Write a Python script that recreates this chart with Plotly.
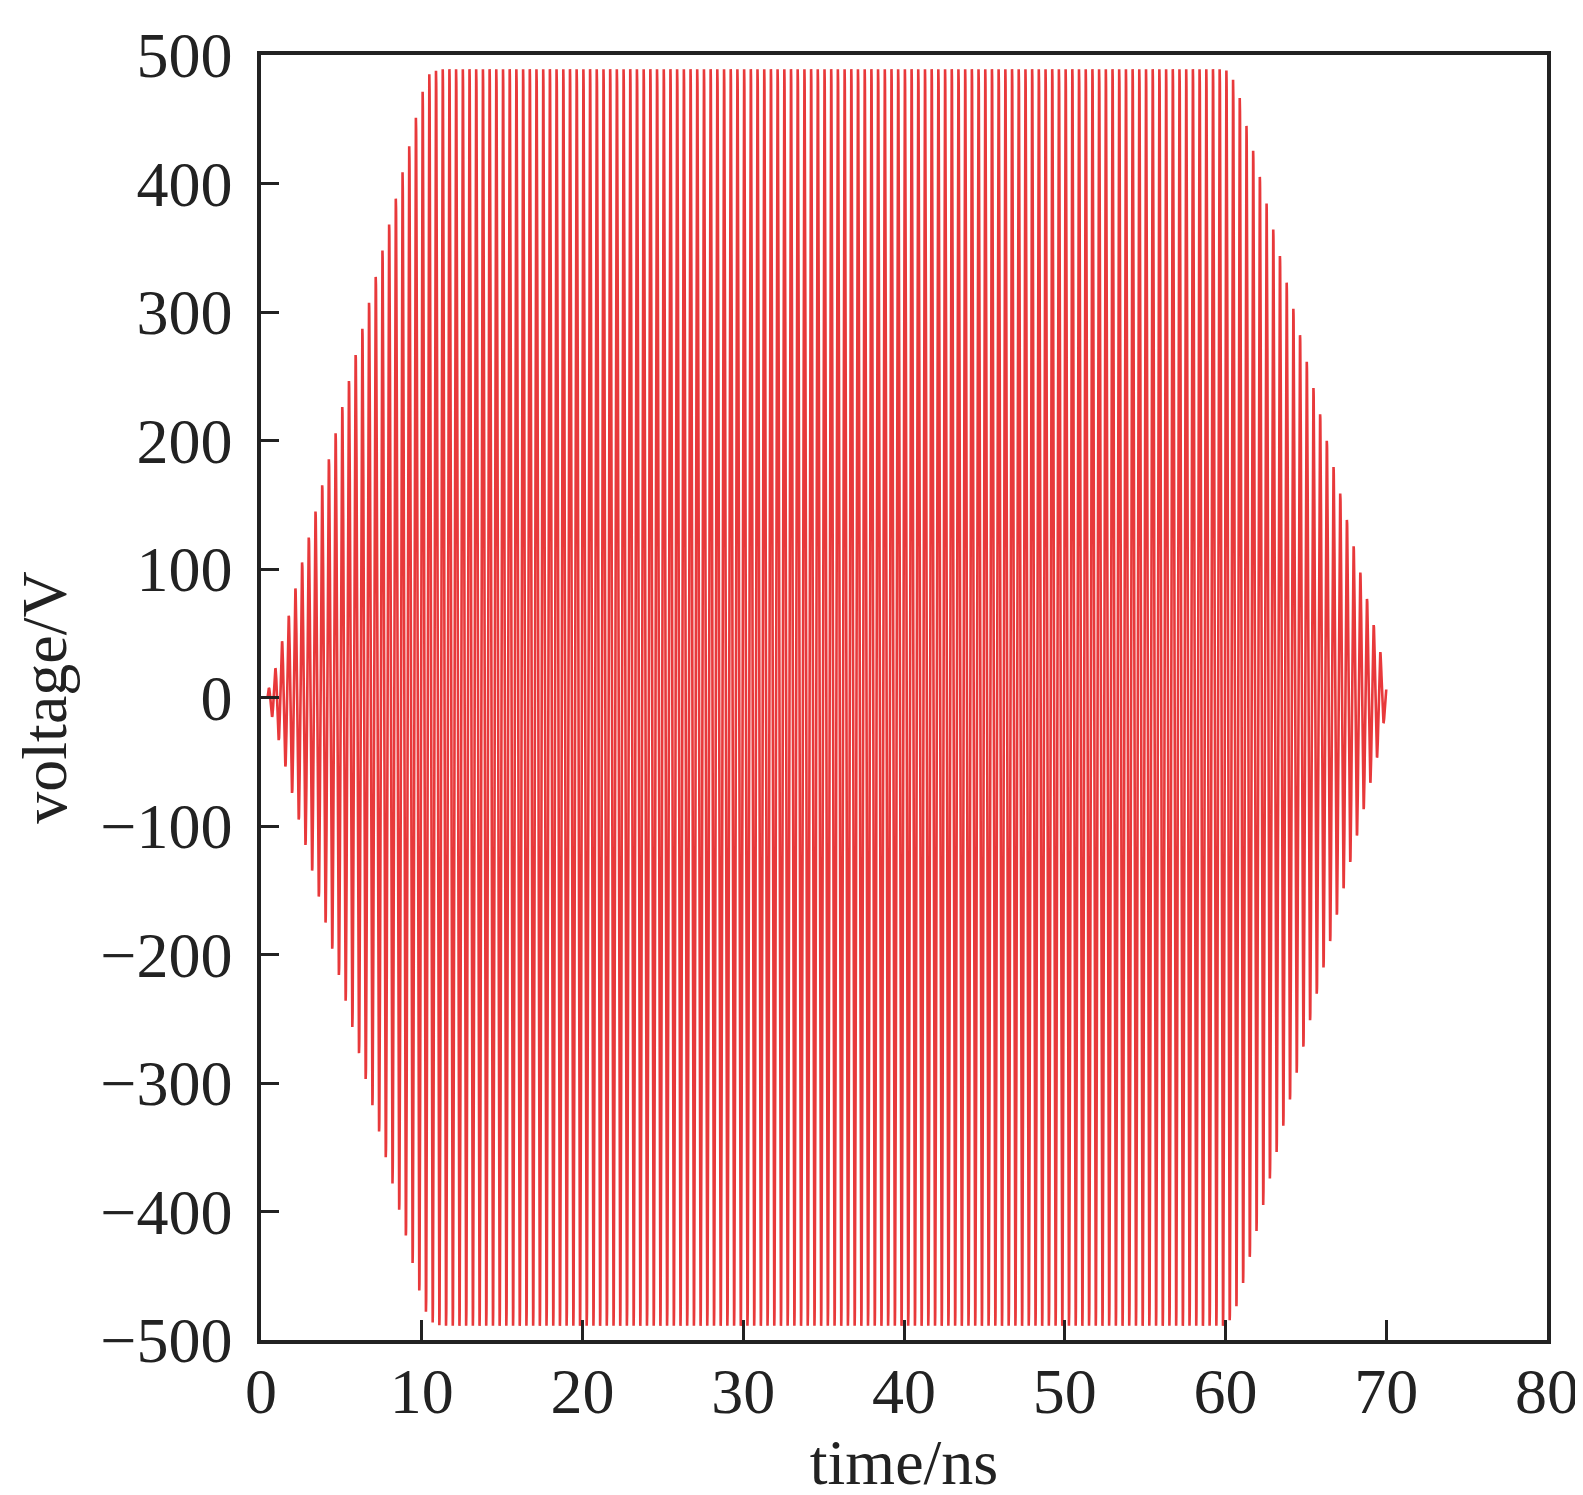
import numpy as np
import plotly.graph_objects as go

# Envelope amplitude readings (time in ns, peak voltage in V)
env_time = [0.0, 0.41, 0.47, 0.91, 1.30, 1.71, 2.12, 2.53, 2.96, 9.24, 9.63, 10.04, 10.47,
            10.9, 11.3, 60.0, 60.43, 60.86, 61.24, 61.67, 62.1, 69.14, 69.57, 69.94, 70.0]
env_volt = [0.0, 0.0, 7.0, 23.5, 43.5, 63.0, 84.0, 104.0, 124.0, 430.0, 451.0, 471.0, 485.0,
            488.0, 489.0, 489.0, 482.0, 468.0, 448.0, 428.0, 407.0, 60.0, 40.0, 12.0, 9.0]

# Carrier: peak spacing ~0.4167 ns, first peak at 0.47 ns
carrier_freq_ghz = 2.4
first_peak_ns = 0.47

x_ticks = [0, 10, 20, 30, 40, 50, 60, 70, 80]
y_ticks = [-500, -400, -300, -200, -100, 0, 100, 200, 300, 400, 500]

t = np.linspace(0.0, 70.0, 14001)
env = np.interp(t, env_time, env_volt)
v = env * np.cos(2 * np.pi * carrier_freq_ghz * (t - first_peak_ns))

fig = go.Figure()
fig.add_trace(go.Scatter(x=t, y=v, mode="lines",
                         line=dict(color="#e8393b", width=2.6), showlegend=False))

font_family = "Liberation Serif"
ink = "#222222"
fs = 64
fig.update_layout(
    width=1583, height=1495,
    margin=dict(l=253, r=34, t=35, b=163),
    paper_bgcolor="white", plot_bgcolor="white",
    font=dict(family=font_family, size=fs, color=ink),
)
fig.update_xaxes(
    range=[0, 80], tickvals=x_ticks, ticktext=[str(x) for x in x_ticks],
    ticks="inside", ticklen=20, tickwidth=3, tickcolor=ink,
    showline=True, linewidth=3.5, linecolor=ink, mirror=True,
    showgrid=False, zeroline=False,
    tickfont=dict(family=font_family, size=fs, color=ink),
    ticklabelstandoff=-8,
    title=dict(text="time/ns", font=dict(family=font_family, size=fs, color=ink), standoff=2),
)
fig.update_yaxes(
    range=[-500, 500], tickvals=y_ticks,
    ticktext=[("\u2212" + str(abs(y))) if y < 0 else str(y) for y in y_ticks],
    ticks="inside", ticklen=18, tickwidth=3, tickcolor=ink,
    showline=True, linewidth=3.5, linecolor=ink, mirror=True,
    showgrid=False, zeroline=False,
    tickfont=dict(family=font_family, size=fs, color=ink),
    ticklabelstandoff=12,
    title=dict(text="voltage/V", font=dict(family=font_family, size=fs, color=ink), standoff=14),
)

fig.write_html("out.html")
